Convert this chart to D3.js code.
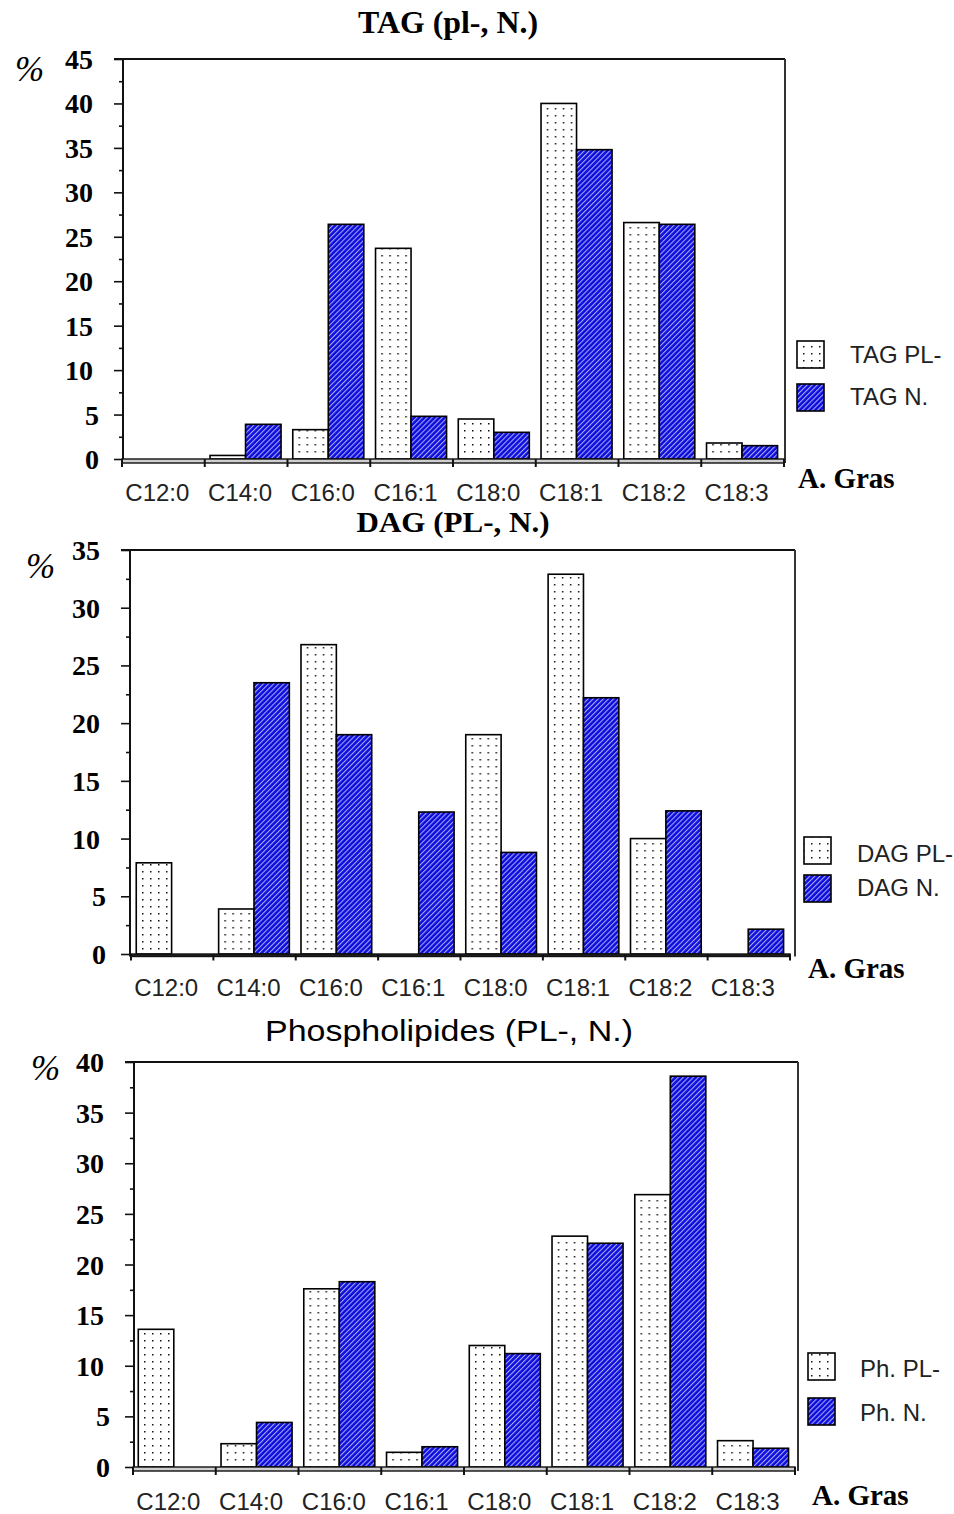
<!DOCTYPE html>
<html>
<head>
<meta charset="utf-8">
<script src="https://cdn.jsdelivr.net/npm/d3@7"></script>
<style>
  html, body { margin: 0; padding: 0; background: #fff; }
  svg { display: block; }
</style>
</head>
<body>
<svg id="chart" width="954" height="1514"></svg>
<script>
// Fatty-acid composition (%) of three lipid classes, PL- vs N.
const categories = ["C12:0", "C14:0", "C16:0", "C16:1", "C18:0", "C18:1", "C18:2", "C18:3"];

const tagPL = [0, 0.4, 3.3, 23.7, 4.5, 40.0, 26.6, 1.8];
const tagN  = [0, 3.9, 26.4, 4.8, 3.0, 34.8, 26.4, 1.5];

const dagPL = [7.9, 3.9, 26.8, 0, 19.0, 32.9, 10.0, 0];
const dagN  = [0, 23.5, 19.0, 12.3, 8.8, 22.2, 12.4, 2.15];

const phPL = [13.6, 2.3, 17.6, 1.45, 12.0, 22.8, 26.9, 2.6];
const phN  = [0, 4.4, 18.3, 2.0, 11.2, 22.1, 38.6, 1.85];

const tagTicks = [0, 5, 10, 15, 20, 25, 30, 35, 40, 45];
const dagTicks = [0, 5, 10, 15, 20, 25, 30, 35];
const phTicks  = [0, 5, 10, 15, 20, 25, 30, 35, 40];

const tagLegend = ["TAG PL-", "TAG N."];
const dagLegend = ["DAG PL-", "DAG N."];
const phLegend  = ["Ph. PL-", "Ph. N."];

const series = ["PL", "N"];
const serif = "'Liberation Serif', 'Times New Roman', serif";
const sans = "'Liberation Sans', Arial, sans-serif";
const blue = "#0c0cdc";

const svg = d3.select("#chart");

// fill patterns: dotted white (PL-) and blue with light diagonal hatching (N.)
const defs = svg.append("defs");
const dots = defs.append("pattern").attr("id", "dots")
  .attr("patternUnits", "userSpaceOnUse").attr("width", 8).attr("height", 7);
dots.append("rect").attr("width", 8).attr("height", 7).attr("fill", "#fff");
dots.append("rect").attr("x", 3).attr("y", 3).attr("width", 1.5).attr("height", 1.5).attr("fill", "#111");

const hatch = defs.append("pattern").attr("id", "hatch")
  .attr("patternUnits", "userSpaceOnUse").attr("width", 3.6).attr("height", 3.6)
  .attr("patternTransform", "rotate(45)");
hatch.append("rect").attr("width", 3.6).attr("height", 3.6).attr("fill", blue);
hatch.append("line").attr("x1", 0.6).attr("x2", 0.6).attr("y1", 0).attr("y2", 3.6)
  .attr("stroke", "#c8c8ff").attr("stroke-width", 0.9);

const fills = { PL: "url(#dots)", N: "url(#hatch)" };

const panels = [
  {
    title: "TAG (pl-, N.)", titleFamily: serif, titleWeight: "bold", titleSize: 31, titleLen: 180,
    titleX: 448, titleY: 33,
    pl: tagPL, n: tagN, ticks: tagTicks, legend: tagLegend,
    xStart: 122, xEnd: 784, axisX: 123, frameRight: 785, top: 59, y0: 459,
    pctX: 15, pctY: 81, legX: 797, legY: [341, 384], legTextX: 850, legTextY: [363, 405],
    xLabY: 501, grasX: 798, grasY: 488, gap: 4, gapFill: "#cfcfcf"
  },
  {
    title: "DAG (PL-, N.)", titleFamily: serif, titleWeight: "bold", titleSize: 29, titleLen: 193,
    titleX: 453, titleY: 532,
    pl: dagPL, n: dagN, ticks: dagTicks, legend: dagLegend,
    xStart: 131, xEnd: 790, axisX: 130, frameRight: 795, top: 550, y0: 954,
    pctX: 26, pctY: 578, legX: 804, legY: [837, 875], legTextX: 857, legTextY: [862, 896],
    xLabY: 996, grasX: 808, grasY: 978, gap: 2.5, gapFill: "#222"
  },
  {
    title: "Phospholipides (PL-, N.)", titleFamily: sans, titleWeight: "normal", titleSize: 29, titleLen: 368,
    titleX: 449, titleY: 1041,
    pl: phPL, n: phN, ticks: phTicks, legend: phLegend,
    xStart: 133, xEnd: 795, axisX: 134, frameRight: 798, top: 1062, y0: 1467,
    pctX: 31, pctY: 1080, legX: 808, legY: [1353, 1398], legTextX: 860, legTextY: [1377, 1421],
    xLabY: 1510, grasX: 812, grasY: 1505, gap: 4, gapFill: "#cfcfcf"
  }
];

panels.forEach(p => {
  const g = svg.append("g");
  const yMax = d3.max(p.ticks);

  const x = d3.scaleBand().domain(categories).range([p.xStart, p.xEnd]).padding(0);
  const xs = d3.scaleBand().domain(series).range([0, x.bandwidth()])
    .paddingInner(0).paddingOuter(0.165).align(0.45);
  const y = d3.scaleLinear().domain([0, yMax]).range([p.y0, p.top]);

  // title
  g.append("text")
    .attr("x", p.titleX).attr("y", p.titleY)
    .attr("text-anchor", "middle")
    .attr("font-family", p.titleFamily).attr("font-weight", p.titleWeight)
    .attr("font-size", p.titleSize)
    .attr("textLength", p.titleLen).attr("lengthAdjust", "spacingAndGlyphs")
    .text(p.title);

  // frame: top and right edges
  g.append("line").attr("x1", p.axisX - 9).attr("x2", p.frameRight)
    .attr("y1", p.top).attr("y2", p.top).attr("stroke", "#111").attr("stroke-width", 2);
  g.append("line").attr("x1", p.frameRight).attr("x2", p.frameRight)
    .attr("y1", p.top).attr("y2", p.y0 + p.gap).attr("stroke", "#333").attr("stroke-width", 2);

  // bars
  const rows = categories.map((c, i) => ({ cat: c, PL: p.pl[i], N: p.n[i] }));
  g.append("g").selectAll("g").data(rows).join("g")
    .attr("transform", d => `translate(${x(d.cat)},0)`)
    .selectAll("rect")
    .data(d => series.map(s => ({ s, v: d[s] })).filter(e => e.v > 0))
    .join("rect")
    .attr("x", e => xs(e.s))
    .attr("width", xs.bandwidth())
    .attr("y", e => y(e.v))
    .attr("height", e => y(0) - y(e.v))
    .attr("fill", e => fills[e.s])
    .attr("stroke", "#000").attr("stroke-width", 1.6);

  // y axis with major and minor ticks
  const major = d3.axisLeft(y).tickValues(p.ticks).tickSize(9).tickFormat("");
  const ga = g.append("g").attr("transform", `translate(${p.axisX},0)`).call(major);
  ga.select(".domain").attr("stroke", "#111").attr("stroke-width", 2)
    .attr("d", `M0,${p.top}V${p.y0 + p.gap}`);
  ga.selectAll(".tick line").attr("stroke", "#111").attr("stroke-width", 1.6);

  const minorVals = d3.range(2.5, yMax, 5);
  const minor = d3.axisLeft(y).tickValues(minorVals).tickSize(4).tickFormat("");
  const gm = g.append("g").attr("transform", `translate(${p.axisX},0)`).call(minor);
  gm.select(".domain").remove();
  gm.selectAll(".tick line").attr("stroke", "#111").attr("stroke-width", 1.6);

  // y tick labels
  g.append("g").selectAll("text").data(p.ticks).join("text")
    .attr("x", v => p.axisX - (v >= 10 ? 30 : 24))
    .attr("y", v => y(v) + 10)
    .attr("text-anchor", "end")
    .attr("font-family", serif).attr("font-weight", "bold").attr("font-size", 28)
    .text(v => v);

  // percent sign
  g.append("text").attr("x", p.pctX).attr("y", p.pctY)
    .attr("font-family", serif).attr("font-style", "italic").attr("font-size", 35)
    .text("%");

  // x axis: double base line with category separators
  g.append("rect").attr("x", p.xStart).attr("y", p.y0)
    .attr("width", p.xEnd - p.xStart).attr("height", p.gap)
    .attr("fill", p.gapFill).attr("stroke", "#111").attr("stroke-width", 1.4);
  const bounds = categories.map(c => x(c)).concat([p.xEnd]);
  g.append("g").selectAll("line").data(bounds).join("line")
    .attr("x1", d => d).attr("x2", d => d)
    .attr("y1", p.y0).attr("y2", p.y0 + p.gap + 4)
    .attr("stroke", "#111").attr("stroke-width", 2);

  // category labels
  g.append("g").selectAll("text").data(categories).join("text")
    .attr("x", c => x(c) + x.bandwidth() / 2 - 6)
    .attr("y", p.xLabY)
    .attr("text-anchor", "middle")
    .attr("font-family", sans).attr("font-size", 24).attr("fill", "#222")
    .text(c => c);

  // legend
  series.forEach((s, i) => {
    g.append("rect").attr("x", p.legX).attr("y", p.legY[i])
      .attr("width", 27).attr("height", 27)
      .attr("fill", fills[s]).attr("stroke", "#000").attr("stroke-width", 1.6);
    g.append("text").attr("x", p.legTextX).attr("y", p.legTextY[i])
      .attr("font-family", sans).attr("font-size", 24).attr("fill", "#222")
      .text(p.legend[i]);
  });

  // axis caption
  g.append("text").attr("x", p.grasX).attr("y", p.grasY)
    .attr("font-family", serif).attr("font-weight", "bold").attr("font-size", 29)
    .text("A. Gras");
});
</script>
</body>
</html>
